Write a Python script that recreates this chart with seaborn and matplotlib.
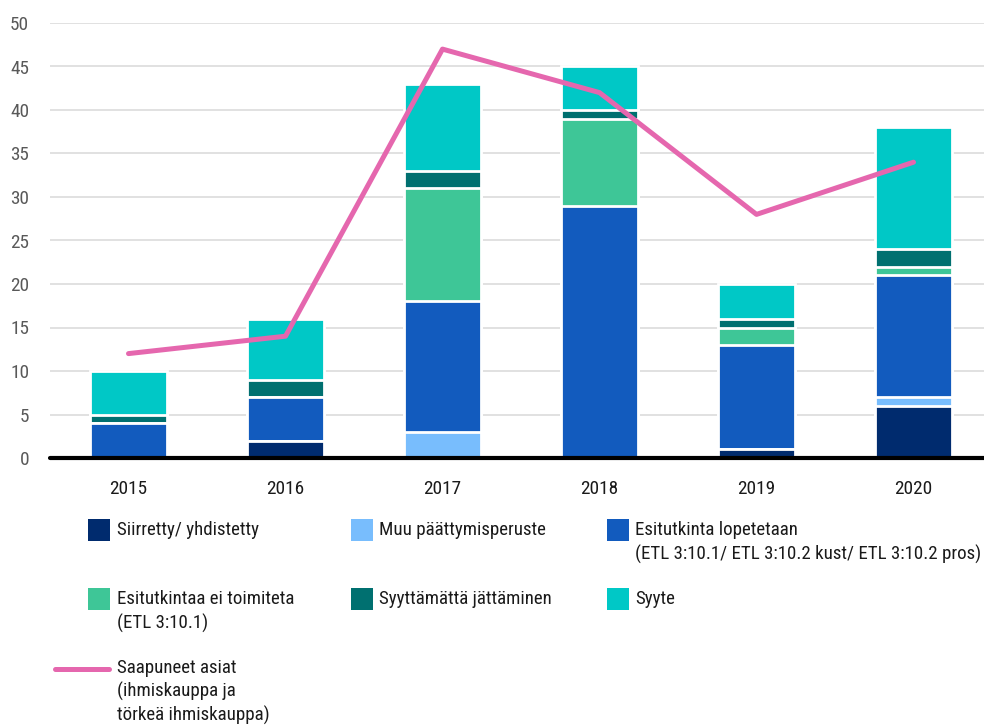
import numpy as np
import pandas as pd
import matplotlib
matplotlib.use("Agg")
import matplotlib.pyplot as plt
from matplotlib import font_manager as fm
from matplotlib.patches import Rectangle
from matplotlib.lines import Line2D
import seaborn as sns

# data
years = ['2015', '2016', '2017', '2018', '2019', '2020']
siirretty = [0, 2, 0, 0, 1, 6]
muu = [0, 0, 3, 0, 0, 1]
lopetetaan = [4, 5, 15, 29, 12, 14]
ei_toimiteta = [0, 0, 13, 10, 2, 1]
syyttamatta = [1, 2, 2, 1, 1, 2]
syyte = [5, 7, 10, 5, 4, 14]
saapuneet = [12, 14, 47, 42, 28, 34]

labels = ['Siirretty/ yhdistetty', 'Muu päättymisperuste',
          'Esitutkinta lopetetaan\n(ETL 3:10.1/ ETL 3:10.2 kust/ ETL 3:10.2 pros)',
          'Esitutkintaa ei toimiteta\n(ETL 3:10.1)', 'Syyttämättä jättäminen', 'Syyte']
line_label = 'Saapuneet asiat\n(ihmiskauppa ja\ntörkeä ihmiskauppa)'
colors = ['#002b6e', '#78bdfd', '#125bbe', '#3ec697', '#007070', '#00c8c6']
line_color = '#e567ae'

series = [siirretty, muu, lopetetaan, ei_toimiteta, syyttamatta, syyte]
cum = np.cumsum(np.array(series), axis=0)

sns.set_theme(style='white')

# the original uses a condensed face; take a narrow one if there is one
font_name, font_stretch = 'Liberation Sans', 'normal'
prefs = ['Liberation Sans Narrow', 'Roboto Condensed', 'Open Sans Condensed',
         'Noto Sans Condensed', 'DejaVu Sans Condensed']
narrow = [f for f in fm.fontManager.ttflist
          if f.style == 'normal' and f.weight in (400, 'normal', 'regular')
          and ('Narrow' in f.name or 'Condensed' in f.name
               or f.stretch in ('condensed', 'semi-condensed'))]
for p in prefs:
    hit = [f for f in narrow if f.name == p]
    if hit:
        font_name, font_stretch = hit[0].name, hit[0].stretch
        break
else:
    if narrow:
        font_name, font_stretch = narrow[0].name, narrow[0].stretch
plt.rcParams['font.family'] = [font_name, 'DejaVu Sans']
plt.rcParams['font.stretch'] = font_stretch

fig = plt.figure(figsize=(9.84, 7.28), dpi=100)
W, H = 984, 728
ax = fig.add_axes([50 / W, 1 - 458 / H, 942 / W, 435 / H])

# size the legend text so the longest line fits like in the original
probe = fig.text(0, 0, '(ETL 3:10.1/ ETL 3:10.2 kust/ ETL 3:10.2 pros)', fontsize=16)
wpx = probe.get_window_extent(fig.canvas.get_renderer()).width
probe.remove()
fs = min(16, 16 * 347 / wpx)
tick_fs = min(14, fs * 1.02)

# stacked bars: draw tallest cumulative first
for i in range(len(series) - 1, -1, -1):
    df = pd.DataFrame({'year': years, 'value': cum[i]})
    sns.barplot(data=df, x='year', y='value', order=years, color=colors[i],
                saturation=1, width=0.485, edgecolor='white', linewidth=2,
                ax=ax, zorder=2)

sns.lineplot(x=np.arange(len(years)), y=saapuneet, color=line_color,
             linewidth=3.6, solid_capstyle='round', ax=ax, zorder=4)

ax.set_xlim(-0.5, 5.5)
ax.set_ylim(0, 50)
ax.set_yticks(range(0, 51, 5))
ax.set_xticks(range(len(years)))
ax.set_xticklabels(years)
ax.set_xlabel('')
ax.set_ylabel('')
ax.yaxis.grid(True, color='#d9d9d9', linewidth=1.1, zorder=0)
ax.set_axisbelow(True)
for s in ax.spines.values():
    s.set_visible(False)
ax.axhline(0, color='black', linewidth=3, zorder=5, clip_on=False)
ax.tick_params(axis='y', length=0, pad=15, labelsize=tick_fs, labelcolor='#595959')
ax.tick_params(axis='x', length=0, pad=16, labelsize=tick_fs, labelcolor='#1a1a1a')

# legend, laid out by hand
sw = 22
cols = [(88, 117), (351, 379), (607, 635)]
rows = [(519, 521), (588, 590)]
for k in range(6):
    r, c = divmod(k, 3)
    sx, tx = cols[c]
    top, ttop = rows[r]
    fig.add_artist(Rectangle((sx / W, 1 - (top + sw) / H), sw / W, sw / H,
                             transform=fig.transFigure, facecolor=colors[k],
                             edgecolor='none'))
    fig.text(tx / W, 1 - ttop / H, labels[k], fontsize=fs, color='#1a1a1a',
             va='top', ha='left', linespacing=1.38)

fig.add_artist(Line2D([55 / W, 109 / W], [1 - 669 / H, 1 - 669 / H],
                      transform=fig.transFigure, color=line_color, linewidth=3.6,
                      solid_capstyle='round'))
fig.text(117 / W, 1 - 659 / H, line_label, fontsize=fs, color='#1a1a1a',
         va='top', ha='left', linespacing=1.32)

fig.savefig('out.png', dpi=100)
